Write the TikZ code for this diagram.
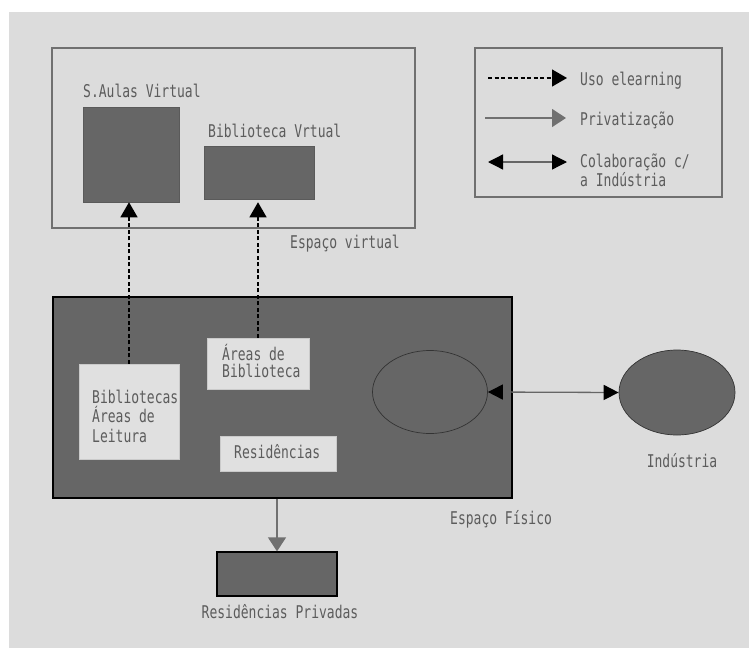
\documentclass[tikz,border=0pt]{standalone}
\usepackage{fontspec}
\setmonofont{DejaVu Sans Mono}
\usetikzlibrary{arrows.meta,shapes.geometric}
\definecolor{bg}{RGB}{220,220,220}
\definecolor{lt}{RGB}{224,224,224}
\definecolor{dk}{RGB}{102,102,102}
\definecolor{txt}{RGB}{92,92,92}
\definecolor{frame}{RGB}{112,112,112}
\newcommand{\tx}[1]{\scalebox{1}[1.35]{#1}}
\begin{document}
\begin{tikzpicture}[x=1pt,y=-1pt,
  lbl/.style={font=\ttfamily\fontsize{13}{16}\selectfont, text=txt, inner sep=0pt, anchor=base west},
  frm/.style={draw=frame, line width=1.6pt, rectangle, inner sep=0pt},
  darkbox/.style={fill=dk, draw=frame!80!black, line width=0.5pt, rectangle, inner sep=0pt},
  blackbox/.style={fill=dk, draw=black, line width=1.3pt, rectangle, inner sep=0pt},
  lightbox/.style={fill=lt, draw=lt!90!black, line width=0.5pt, rectangle, inner sep=0pt},
  oval/.style={ellipse, fill=dk, draw=black!80, line width=0.7pt, inner sep=0pt},
  elearn/.style={dashed, dash pattern=on 4pt off 2.5pt, line width=1.2pt, black, -{Triangle[length=15pt,width=17pt]}},
  priv/.style={line width=1.3pt, frame, -{Triangle[length=14pt,width=18pt]}},
  collab/.style={line width=1.3pt, black!60, {Triangle[length=15pt,width=15pt,color=black]}-{Triangle[length=15pt,width=15pt,color=black]}}
]
\useasboundingbox (0,0) rectangle (749,648);
\fill[white] (0,0) rectangle (749,648);
\fill[bg] (9,12) rectangle (749,648);

% virtual space
\node[frm, minimum width=363pt, minimum height=180pt] (virt) at (233.5,138) {};
\node[darkbox, minimum width=96pt, minimum height=95pt] (saulas) at (131,154.5) {};
\node[darkbox, minimum width=110pt, minimum height=53pt] (bvirt) at (259,172.5) {};
\node[lbl] (lsaulas) at (83,97) {\tx{S.Aulas Virtual}};
\node[lbl] (lbvirt) at (208,137) {\tx{Biblioteca Vrtual}};
\node[lbl] (lvirt) at (290,248) {\tx{Espaço virtual}};

% legend
\node[frm, minimum width=247pt, minimum height=149pt] (legend) at (598.5,122.5) {};
\coordinate (l1a) at (488,78); \coordinate (l1b) at (567,78);
\coordinate (l2a) at (485,118); \coordinate (l2b) at (566,118);
\coordinate (l3a) at (488,162); \coordinate (l3b) at (567,162);
\draw[elearn] (l1a) -- (l1b);
\draw[priv] (l2a) -- (l2b);
\draw[collab] (l3a) -- (l3b);
\node[lbl] (t1) at (580,85) {\tx{Uso elearning}};
\node[lbl] (t2) at (580,125) {\tx{Privatização}};
\node[lbl] (t3) at (580,167) {\tx{Colaboração c/}};
\node[lbl] (t4) at (580,186) {\tx{a Indústria}};

% physical space
\node[blackbox, minimum width=459pt, minimum height=201pt] (phys) at (282.5,397.5) {};
\node[lightbox, minimum width=100pt, minimum height=95pt] (bibl) at (129,411.5) {};
\node[lightbox, minimum width=102pt, minimum height=51pt] (areas) at (258,363.5) {};
\node[lightbox, minimum width=116pt, minimum height=35pt] (resid) at (278,453.5) {};
\node[lbl] (b1) at (92,403) {\tx{Bibliotecas}};
\node[lbl] (b2) at (92,422) {\tx{Áreas de}};
\node[lbl] (b3) at (92,442) {\tx{Leitura}};
\node[lbl] (a1) at (222,360) {\tx{Áreas de}};
\node[lbl] (a2) at (222,377) {\tx{Biblioteca}};
\node[lbl] (r1) at (234,458) {\tx{Residências}};
\node[oval, minimum width=115pt, minimum height=83pt] (inner) at (430,392) {};
\node[lbl] (lphys) at (450,524) {\tx{Espaço Físico}};

% industry
\node[oval, minimum width=116pt, minimum height=85pt] (ind) at (677,392.5) {};
\node[lbl, anchor=base] (lind) at (682,467) {\tx{Indústria}};

% private residences
\node[blackbox, minimum width=120pt, minimum height=44pt] (rpriv) at (277,574) {};
\node[lbl, anchor=base] (lrpriv) at (280,618) {\tx{Residências Privadas}};

% connectors
\draw[elearn] (bibl.north) -- (bibl.north |- saulas.south);
\draw[elearn] (areas.north) -- (areas.north |- saulas.south);
\draw[collab] (inner.east) -- (ind.west);
\draw[priv] (rpriv.north |- phys.south) -- (rpriv.north);
\end{tikzpicture}
\end{document}
